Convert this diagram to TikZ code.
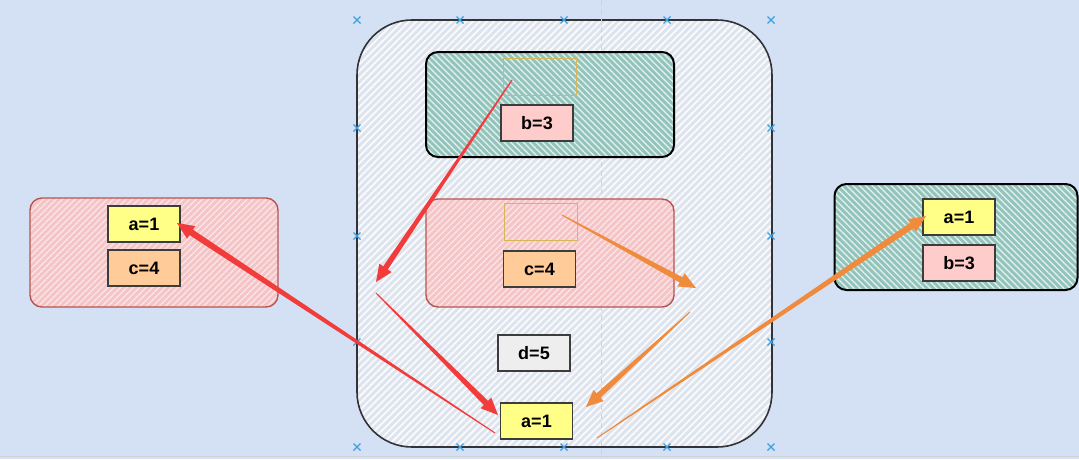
\documentclass[tikz,border=0pt]{standalone}
\usepackage{fontspec}
\setmainfont{Liberation Sans}
\usetikzlibrary{patterns.meta,calc}
\definecolor{bg}{RGB}{212,225,244}
\definecolor{bigfill}{RGB}{222,228,238}
\definecolor{greenfill}{RGB}{146,196,188}
\definecolor{redfill}{RGB}{244,196,198}
\definecolor{redline}{RGB}{184,84,80}
\definecolor{boxline}{RGB}{60,60,60}
\definecolor{emptyline}{RGB}{214,182,86}
\definecolor{yel}{RGB}{255,255,136}
\definecolor{pinkb}{RGB}{255,204,204}
\definecolor{orangeb}{RGB}{255,204,153}
\definecolor{grayb}{RGB}{238,238,238}
\definecolor{arrred}{RGB}{242,60,60}
\definecolor{arrorange}{RGB}{240,138,60}
\definecolor{xblue}{RGB}{60,160,225}
\definecolor{bigline}{RGB}{50,50,55}
\newcommand\taparrow[5]{%
  \coordinate (tpB) at ($(#3)!17pt!(#2)$);
  \fill[#1] ($(#2)!#4!90:(#3)$) -- ($(tpB)!#5!90:(#3)$) -- ($(tpB)!7.5pt!90:(#3)$) -- (#3)
    -- ($(tpB)!7.5pt!-90:(#3)$) -- ($(tpB)!#5!-90:(#3)$) -- ($(#2)!#4!-90:(#3)$) -- cycle;}
\newcommand\xmark[1]{\draw[xblue,line width=1.2pt] ($(#1)+(-3.5,-3.5)$) -- ($(#1)+(3.5,3.5)$) ($(#1)+(-3.5,3.5)$) -- ($(#1)+(3.5,-3.5)$);}
\begin{document}
\begin{tikzpicture}[x=1pt,y=-1pt,
  container/.style={inner sep=0, rounded corners=12pt},
  bigbox/.style={container, draw=bigline, line width=1.6pt, rounded corners=55pt,
     preaction={fill=bigfill}, pattern={Lines[angle=45,distance=5pt,line width=1.8pt]}, pattern color=white!85!bigfill},
  greenbox/.style={container, draw=black, line width=2pt,
     preaction={fill=greenfill}, pattern={Lines[angle=-45,distance=4.5pt,line width=1.4pt]}, pattern color=white!72!greenfill},
  redbox/.style={container, draw=redline, line width=1.4pt,
     preaction={fill=redfill}, pattern={Lines[angle=45,distance=4.5pt,line width=1.4pt]}, pattern color=white!55!redfill},
  val/.style={draw=boxline, line width=1.2pt, minimum width=72pt, minimum height=36pt, inner sep=0,
     font=\bfseries\fontsize{18}{20}\selectfont},
  emptybox/.style={draw=emptyline, line width=1pt, minimum width=73pt, minimum height=37pt, inner sep=0}
]
\useasboundingbox (0,0) rectangle (1079,459);
\fill[bg] (0,0) rectangle (1079,459);
\draw[gray!35, line width=0.8pt] (0,456) -- (1079,456);

% containers
\node[bigbox, minimum width=415pt, minimum height=427pt] (big) at (564.5,233.5) {};
\draw[gray!35, line width=0.7pt, dash pattern=on 5pt off 4pt] (601,0) -- (601,459);
\node[greenbox, minimum width=248pt, minimum height=105pt] (topg) at (550,104.5) {};
\node[redbox, minimum width=248pt, minimum height=108pt] (midr) at (550,253) {};
\node[redbox, minimum width=248pt, minimum height=109pt] (leftr) at (154,252.5) {};
\node[greenbox, minimum width=243pt, minimum height=106pt] (rightg) at (956,237) {};

% boxes
\node[emptybox] (tope) at (539.5,76.5) {};
\node[val, fill=pinkb] (b3) at (537,123) {b=3};
\node[emptybox] (mide) at (540.5,222) {};
\node[val, fill=orangeb] (c4) at (539.5,269) {c=4};
\node[val, fill=grayb] (d5) at (534,353) {d=5};
\node[val, fill=yel] (a1) at (536.5,421) {a=1};
\node[val, fill=yel] (la1) at (144,224) {a=1};
\node[val, fill=orangeb] (lc4) at (144,268) {c=4};
\node[val, fill=yel] (ra1) at (959,217) {a=1};
\node[val, fill=pinkb] (rb3) at (959,263) {b=3};

% blue markers
\foreach \mx/\my [count=\i] in {357/20,460/20,564/20,667/20,771/20,357/128,771/128,357/236,771/236,357/342,771/342,357/447,460/447,564/447,667/447,771/447}{
  \coordinate (m\i) at (\mx,\my);
  \xmark{m\i}
}

% arrow points
\coordinate (r1s) at (512,80);
\coordinate (r1e) at (376,282);
\coordinate (r2s) at (376,293);
\coordinate (r2e) at (498,415);
\coordinate (r3s) at (495,433);
\coordinate (r3e) at (177,223);
\coordinate (o1s) at (562,215);
\coordinate (o1e) at (696,288);
\coordinate (o2s) at (690,312);
\coordinate (o2e) at (586,407);
\coordinate (o3s) at (597,438);
\coordinate (o3e) at (926,216);

\taparrow{arrred}{r1s}{r1e}{0.6pt}{2.8pt}
\taparrow{arrred}{r2s}{r2e}{0.5pt}{3pt}
\taparrow{arrred}{r3s}{r3e}{0.5pt}{3.2pt}
\taparrow{arrorange}{o1s}{o1e}{0.5pt}{3pt}
\taparrow{arrorange}{o2s}{o2e}{0.5pt}{3pt}
\taparrow{arrorange}{o3s}{o3e}{0.5pt}{3.2pt}
\end{tikzpicture}
\end{document}
